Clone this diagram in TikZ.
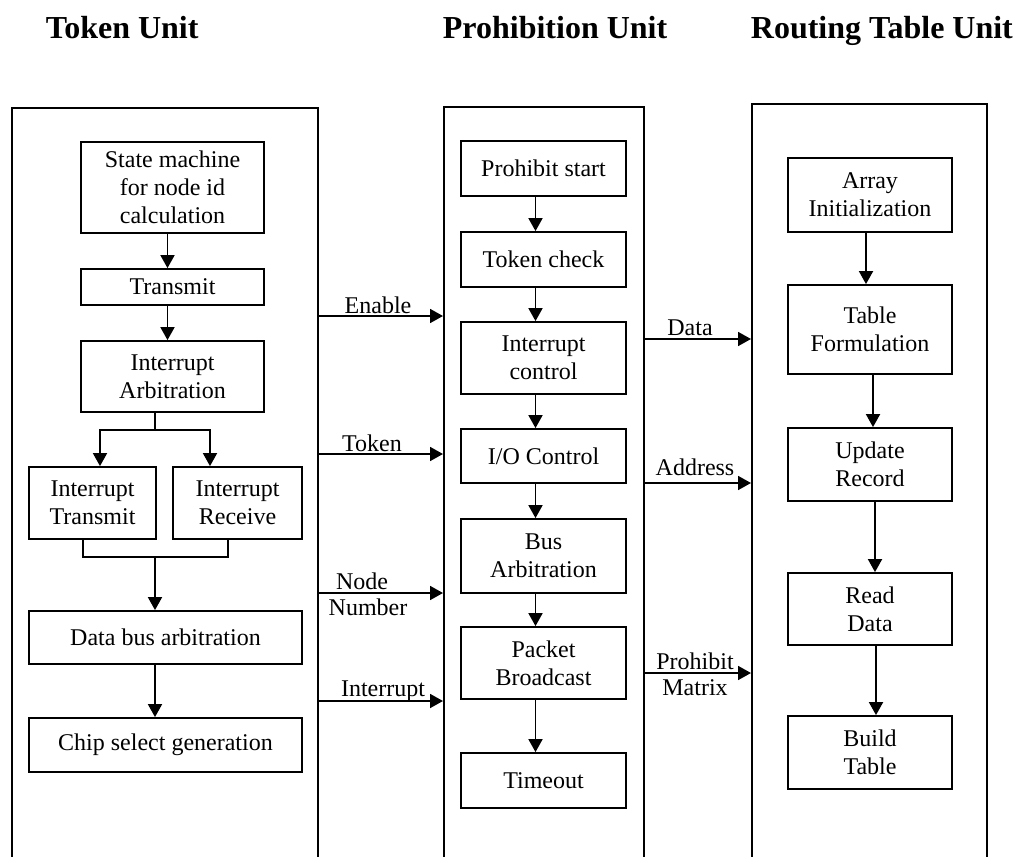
\documentclass[tikz,border=0pt]{standalone}
\usepackage{fontspec}
\setmainfont{Liberation Serif}
\usetikzlibrary{arrows.meta}
\begin{document}
\begin{tikzpicture}[x=1pt,y=-1pt,
  line width=1.8pt,
  unit/.style={draw, anchor=north west, inner sep=0pt},
  blk/.style={draw, align=center, inner sep=0pt, font=\fontsize{24}{28}\selectfont},
  lbl/.style={inner sep=0pt, align=center, font=\fontsize{24}{28}\selectfont},
  ttl/.style={anchor=base west, inner sep=0pt, font=\bfseries\fontsize{32}{36}\selectfont},
  flow/.style={-{Triangle[width=14pt,length=13pt]}},
]
\useasboundingbox (0,0) rectangle (1019,856);
\clip (0,0) rectangle (1019,856);

% unit titles
\node[ttl] (tTok) at (45,39) {Token Unit};
\node[ttl] (tPro) at (442,39) {Prohibition Unit};
\node[ttl] (tRou) at (750,39) {Routing Table Unit};

% unit frames (open at the bottom edge)
\node[unit, minimum width=306pt, minimum height=800pt] (tokU) at (11,107) {};
\node[unit, minimum width=200pt, minimum height=800pt] (proU) at (443,106) {};
\node[unit, minimum width=235pt, minimum height=800pt] (rouU) at (751,103) {};

% ---- Token unit ----
\node[blk, minimum width=183pt, minimum height=91pt] (sm) at (172.5,187.5) {State machine\\for node id\\calculation};
\node[blk, minimum width=183pt, minimum height=36pt] (tx) at (172.5,287) {Transmit};
\node[blk, minimum width=183pt, minimum height=71pt] (ia) at (172.5,376.5) {Interrupt\\Arbitration};
\node[blk, minimum width=127pt, minimum height=72pt] (it) at (92.5,503) {Interrupt\\Transmit};
\node[blk, minimum width=129pt, minimum height=72pt] (ir) at (237.5,503) {Interrupt\\Receive};
\node[blk, minimum width=273pt, minimum height=53pt] (db) at (165.5,637.5) {Data bus arbitration};
\node[blk, minimum width=273pt, minimum height=54pt] (cs) at (165.5,745) {Chip select generation};

\draw[flow] ([xshift=-5pt]sm.south) -- ([xshift=-5pt]tx.north);
\draw[flow] ([xshift=-5pt]tx.south) -- ([xshift=-5pt]ia.north);

\coordinate (sp) at (155,430);
\coordinate (spL) at (100,430);
\coordinate (spR) at (210,430);
\draw[flow] (ia.south -| sp) -- (sp) -- (spL) -- (spL |- it.north);
\draw[flow] (sp) -- (spR) -- (spR |- ir.north);

\coordinate (mL) at (83,557);
\coordinate (mR) at (228,557);
\coordinate (mC) at (155,557);
\draw (it.south -| mL) -- (mL) -- (mR) -- (ir.south -| mR);
\draw[flow] (mC) -- (db.north -| mC);
\draw[flow] (db.south -| mC) -- (cs.north -| mC);

% ---- Prohibition unit ----
\node[blk, minimum width=165pt, minimum height=55pt] (ps) at (543.5,168.5) {Prohibit start};
\node[blk, minimum width=165pt, minimum height=55pt] (tc) at (543.5,259.5) {Token check};
\node[blk, minimum width=165pt, minimum height=72pt] (ic) at (543.5,358) {Interrupt\\control};
\node[blk, minimum width=165pt, minimum height=54pt] (io) at (543.5,456) {I/O Control};
\node[blk, minimum width=165pt, minimum height=74pt] (ba) at (543.5,556) {Bus\\Arbitration};
\node[blk, minimum width=165pt, minimum height=72pt] (pb) at (543.5,663) {Packet\\Broadcast};
\node[blk, minimum width=165pt, minimum height=55pt] (to) at (543.5,780.5) {Timeout};

\draw[flow] ([xshift=-8pt]ps.south) -- ([xshift=-8pt]tc.north);
\draw[flow] ([xshift=-8pt]tc.south) -- ([xshift=-8pt]ic.north);
\draw[flow] ([xshift=-8pt]ic.south) -- ([xshift=-8pt]io.north);
\draw[flow] ([xshift=-8pt]io.south) -- ([xshift=-8pt]ba.north);
\draw[flow] ([xshift=-8pt]ba.south) -- ([xshift=-8pt]pb.north);
\draw[flow] ([xshift=-8pt]pb.south) -- ([xshift=-8pt]to.north);

% ---- Routing table unit ----
\node[blk, minimum width=164pt, minimum height=74pt] (ai) at (870,195) {Array\\Initialization};
\node[blk, minimum width=164pt, minimum height=89pt] (tf) at (870,329.5) {Table\\Formulation};
\node[blk, minimum width=164pt, minimum height=73pt] (ur) at (870,464.5) {Update\\Record};
\node[blk, minimum width=164pt, minimum height=72pt] (rd) at (870,609) {Read\\Data};
\node[blk, minimum width=164pt, minimum height=73pt] (bt) at (870,752.5) {Build\\Table};

\draw[flow] ([xshift=-4pt]ai.south) -- ([xshift=-4pt]tf.north);
\draw[flow] ([xshift=3pt]tf.south) -- ([xshift=3pt]ur.north);
\draw[flow] ([xshift=5pt]ur.south) -- ([xshift=5pt]rd.north);
\draw[flow] ([xshift=6pt]rd.south) -- ([xshift=6pt]bt.north);

% ---- signals between units ----
\coordinate (yEn) at (0,316);
\coordinate (yTk) at (0,454);
\coordinate (yNn) at (0,593);
\coordinate (yIn) at (0,701);
\coordinate (yDa) at (0,339);
\coordinate (yAd) at (0,483);
\coordinate (yPm) at (0,673);

\draw[flow] (tokU.east |- yEn) -- (proU.west |- yEn);
\draw[flow] (tokU.east |- yTk) -- (proU.west |- yTk);
\draw[flow] (tokU.east |- yNn) -- (proU.west |- yNn);
\draw[flow] (tokU.east |- yIn) -- (proU.west |- yIn);
\draw[flow] (proU.east |- yDa) -- (rouU.west |- yDa);
\draw[flow] (proU.east |- yAd) -- (rouU.west |- yAd);
\draw[flow] (proU.east |- yPm) -- (rouU.west |- yPm);

\node[lbl] (lEn) at (378,305) {Enable};
\node[lbl] (lTk) at (372,443) {Token};
\node[lbl] (lNd) at (362,581) {Node};
\node[lbl] (lNm) at (368,607) {Number};
\node[lbl] (lIn) at (383,691) {Interrupt};
\node[lbl] (lDa) at (690,328) {Data};
\node[lbl] (lAd) at (695,467) {Address};
\node[lbl] (lPr) at (695,661) {Prohibit};
\node[lbl] (lMx) at (695,688) {Matrix};
\end{tikzpicture}
\end{document}
